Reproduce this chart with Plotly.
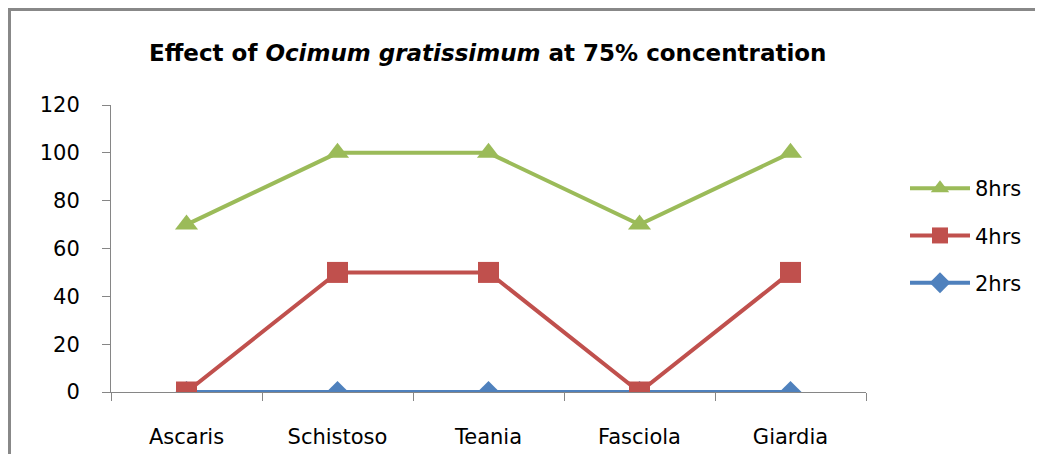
import plotly.graph_objects as go

categories = ["Ascaris", "Schistoso", "Teania", "Fasciola", "Giardia"]
hrs8 = [70, 100, 100, 70, 100]
hrs4 = [0, 50, 50, 0, 50]
hrs2 = [0, 0, 0, 0, 0]
y_ticks = [0, 20, 40, 60, 80, 100, 120]

OFF = 8  # page body margin
W, H = 1043 - OFF, 454 - OFF
# target screen geometry
SL, SR, ST, SB = 111, 866, 105, 392
L, T = SL - OFF, ST - OFF
R = W - (SR - OFF)
B = H - (SB - OFF)
pw, ph = W - L - R, H - T - B

def px(x):
    return (x - OFF - L) / pw

def py(y):
    return (H - B - (y - OFF)) / ph

FONT = "DejaVu Sans"

fig = go.Figure()
fig.add_trace(go.Scatter(x=categories, y=hrs2, name="2hrs", mode="lines+markers",
                         legendgroup="c", legendrank=3,
                         line=dict(color="#4F81BD", width=4),
                         marker=dict(symbol="diamond", size=17, color="#4F81BD")))
fig.add_trace(go.Scatter(x=categories, y=hrs4, name="4hrs", mode="lines+markers",
                         legendgroup="b", legendrank=2,
                         line=dict(color="#C0504D", width=4),
                         marker=dict(symbol="square", size=21, color="#C0504D")))
fig.add_trace(go.Scatter(x=categories, y=hrs8, name="8hrs", mode="lines+markers",
                         legendgroup="a", legendrank=1,
                         line=dict(color="#9BBB59", width=4),
                         marker=dict(symbol="triangle-up", size=20, color="#9BBB59")))

fig.update_layout(
    width=W, height=H,
    margin=dict(l=L, r=R, t=T, b=B),
    paper_bgcolor="white", plot_bgcolor="white",
    font=dict(family=FONT, size=21, color="#000000"),
    showlegend=True,
    legend=dict(x=px(905), y=py(168), xanchor="left", yanchor="top",
                font=dict(size=21), tracegroupgap=17, itemwidth=60,
                traceorder="grouped", bgcolor="rgba(0,0,0,0)"),
    annotations=[dict(text="<b>Effect of <i>Ocimum gratissimum</i> at 75% concentration</b>",
                      x=px(488), y=py(53), xref="paper", yref="paper",
                      showarrow=False, font=dict(size=23, family=FONT),
                      xanchor="center", yanchor="middle")],
    shapes=[dict(type="rect", xref="paper", yref="paper",
                 x0=px(9.5), y0=py(480), x1=px(1080), y1=py(9.5),
                 line=dict(color="#888888", width=3))],
)
fig.update_xaxes(range=[-0.5, 4.5], showline=True, linecolor="#868686", linewidth=1,
                 ticks="outside", tickcolor="#868686", ticklen=8,
                 tickson="boundaries", showgrid=False, zeroline=False,
                 ticklabelstandoff=26, tickfont=dict(size=21), automargin=False)
fig.update_yaxes(range=[0, 120], tickvals=y_ticks, showline=True,
                 linecolor="#868686", linewidth=1, ticks="outside",
                 tickcolor="#868686", ticklen=8, showgrid=False,
                 zeroline=False, ticklabelstandoff=18, tickfont=dict(size=21),
                 automargin=False)

fig.write_html("out.html")
